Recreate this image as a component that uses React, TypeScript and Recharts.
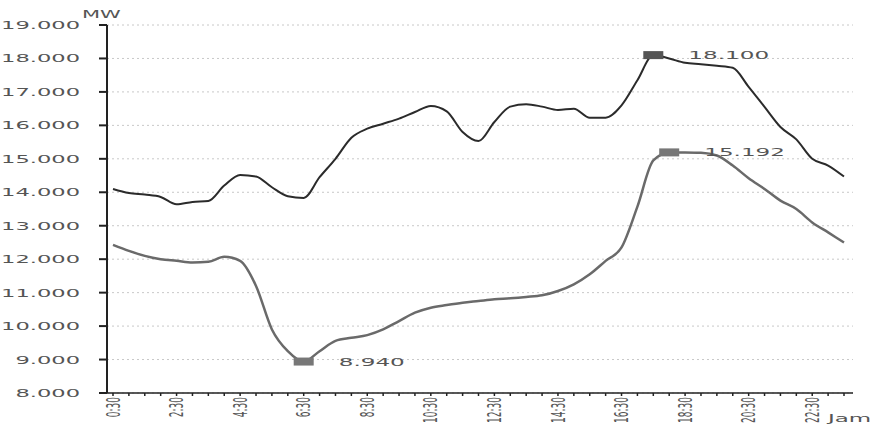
import { LineChart, Line, XAxis, YAxis, CartesianGrid } from "recharts";

const hours = [
  "0:30", "1:00", "1:30", "2:00", "2:30", "3:00", "3:30", "4:00", "4:30", "5:00",
  "5:30", "6:00", "6:30", "7:00", "7:30", "8:00", "8:30", "9:00", "9:30", "10:00",
  "10:30", "11:00", "11:30", "12:00", "12:30", "13:00", "13:30", "14:00", "14:30", "15:00",
  "15:30", "16:00", "16:30", "17:00", "17:30", "18:00", "18:30", "19:00", "19:30", "20:00",
  "20:30", "21:00", "21:30", "22:00", "22:30", "23:00", "23:30",
];

// upper curve (peak day)
const bebanAtas = [
  14100, 13980, 13930, 13860, 13640, 13710, 13740, 14200, 14520, 14470,
  14150, 13880, 13830, 14450, 15000, 15630, 15900, 16050, 16200, 16400,
  16580, 16420, 15800, 15530, 16100, 16560, 16630, 16560, 16460, 16500,
  16230, 16230, 16600, 17350, 18100, 18000, 17870, 17830, 17780, 17720,
  17150, 16550, 15950, 15580, 15000, 14800, 14470,
];

// lower curve
const bebanBawah = [
  12430, 12250, 12100, 12000, 11950, 11900, 11920, 12070, 11950, 11200,
  9900, 9250, 8940, 9250, 9560, 9650, 9730, 9900, 10150, 10400,
  10550, 10630, 10700, 10750, 10800, 10830, 10870, 10920, 11050, 11250,
  11550, 11950, 12350, 13570, 14950, 15192, 15190, 15180, 15100, 14800,
  14420, 14100, 13750, 13500, 13100, 12800, 12500,
];

const yTicks = [8000, 9000, 10000, 11000, 12000, 13000, 14000, 15000, 16000, 17000, 18000, 19000];

const data = hours.map((h, i) => ({ jam: h, atas: bebanAtas[i], bawah: bebanBawah[i] }));

const fmt = (v: number) => (v / 1000).toFixed(3);

const argMax = (arr: number[]) => arr.indexOf(Math.max(...arr));
const argMin = (arr: number[]) => arr.indexOf(Math.min(...arr));

const FONT = "DejaVu Sans, sans-serif";
const TXT = "#555";

function markerDot(marks: number[], fill: string) {
  return (props: any) => {
    const { cx, cy, index, value, key } = props;
    if (!marks.includes(index) || cx == null) return <g key={key ?? index} />;
    return (
      <g key={key ?? index}>
        <rect x={cx - 10} y={cy - 4} width={20} height={8} fill={fill} />
        <text
          transform={`translate(${cx + 35},${cy + 4}) scale(2.1,1)`}
          fontSize={11}
          fontFamily={FONT}
          fill={TXT}
        >
          {fmt(value)}
        </text>
      </g>
    );
  };
}

const YTick = (props: any) => {
  const { x, y, payload } = props;
  return (
    <text
      transform={`translate(${x - 17},${y + 4}) scale(2.15,1)`}
      textAnchor="end"
      fontSize={10.5}
      fontFamily={FONT}
      fill={TXT}
    >
      {fmt(payload.value)}
    </text>
  );
};

const XTick = (props: any) => {
  const { x, y, payload, index } = props;
  if (index % 4 !== 0) return <g />;
  return (
    <text
      transform={`translate(${x},${y}) scale(2.1,1) rotate(-90)`}
      textAnchor="end"
      dy="0.35em"
      fontSize={9}
      fontFamily={FONT}
      fill={TXT}
    >
      {payload.value}
    </text>
  );
};

export default function App() {
  return (
    <div style={{ position: "absolute", left: 0, top: 0, background: "#fff" }}>
      <LineChart
        width={884}
        height={425}
        data={data}
        margin={{ top: 25, right: 31, bottom: 0, left: 0 }}
      >
        <CartesianGrid vertical={false} stroke="#c8c8c8" strokeDasharray="2 3" />
        <XAxis
          dataKey="jam"
          interval={0}
          tick={<XTick />}
          tickSize={3}
          tickMargin={1}
          height={32}
          padding={{ left: 6, right: 9 }}
          stroke="#222"
          strokeWidth={1.5}
        />
        <YAxis
          width={107}
          domain={[8000, 19000]}
          ticks={yTicks}
          tick={<YTick />}
          tickSize={8}
          tickMargin={2}
          stroke="#222"
          strokeWidth={2}
          allowDataOverflow
        />
        <Line
          type="monotone"
          dataKey="bawah"
          stroke="#6a6a6a"
          strokeWidth={2.5}
          dot={markerDot([argMax(bebanBawah), argMin(bebanBawah)], "#777")}
          activeDot={false}
          isAnimationActive={false}
        />
        <Line
          type="monotone"
          dataKey="atas"
          stroke="#2b2b2b"
          strokeWidth={2}
          dot={markerDot([argMax(bebanAtas)], "#555")}
          activeDot={false}
          isAnimationActive={false}
        />
        <text transform="translate(82,18) scale(2.1,1)" fontSize={10} fontFamily={FONT} fill={TXT}>
          MW
        </text>
        <text transform="translate(828,422) scale(2.3,1)" fontSize={10} fontFamily={FONT} fill={TXT}>
          Jam
        </text>
      </LineChart>
    </div>
  );
}
